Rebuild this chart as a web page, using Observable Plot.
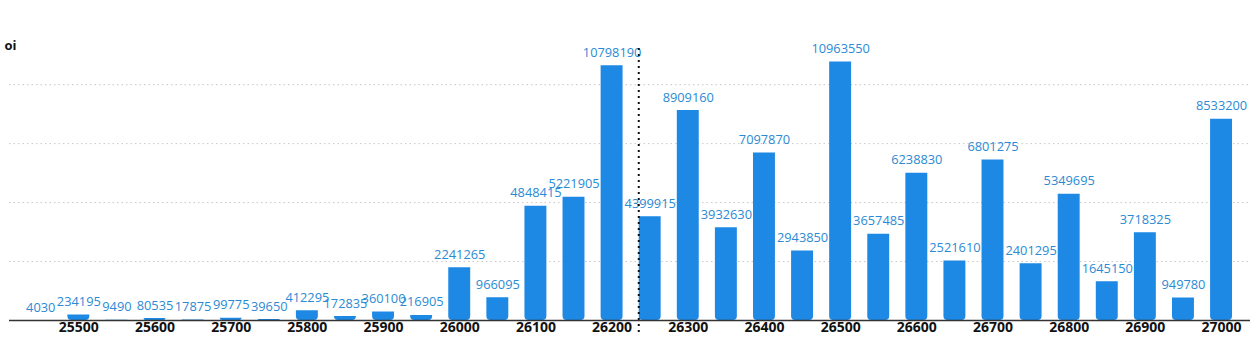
<!DOCTYPE html>
<html>
<head>
<meta charset="utf-8">
<script src="https://cdn.jsdelivr.net/npm/d3@7"></script>
<script src="https://cdn.jsdelivr.net/npm/@observablehq/plot@0.6"></script>
<style>
  html, body { margin: 0; padding: 0; background: #fff; }
  #chart svg { display: block; }
</style>
</head>
<body>
<div id="chart"></div>
<script>
const strikes = [25450, 25500, 25550, 25600, 25650, 25700, 25750, 25800, 25850, 25900, 25950,
  26000, 26050, 26100, 26150, 26200, 26250, 26300, 26350, 26400, 26450, 26500, 26550, 26600,
  26650, 26700, 26750, 26800, 26850, 26900, 26950, 27000];
const oi = [4030, 234195, 9490, 80535, 17875, 99775, 39650, 412295, 172835, 360100, 216905,
  2241265, 966095, 4848415, 5221905, 10798190, 4399915, 8909160, 3932630, 7097870, 2943850,
  10963550, 3657485, 6238830, 2521610, 6801275, 2401295, 5349695, 1645150, 3718325, 949780, 8533200];
const xTicks = [25500, 25600, 25700, 25800, 25900, 26000, 26100, 26200, 26300, 26400, 26500,
  26600, 26700, 26800, 26900, 27000];
const yGrid = [2500000, 5000000, 7500000, 10000000];
const spot = [26235];
const yLabel = "oi";

const data = strikes.map((s, i) => ({strike: s, oi: oi[i]}));
const half = 14.4;

const chart = Plot.plot({
  width: 1252,
  height: 340,
  marginLeft: 9,
  marginRight: 2,
  marginTop: 37,
  marginBottom: 20,
  style: {fontFamily: "'Open Sans', sans-serif", background: "#fff"},
  x: {domain: [25409, 27038], axis: null},
  y: {domain: [0, 12000000], axis: null},
  marks: [
    Plot.gridY(yGrid, {stroke: "#c8c8c8", strokeOpacity: 1, strokeDasharray: "1.5,3"}),
    Plot.rectY(data, {
      x1: d => d.strike - half, x2: d => d.strike + half,
      y1: 0, y2: "oi", fill: "#1e88e5", ry1: 4
    }),
    Plot.text(data, {
      x: "strike", y: "oi", text: d => String(d.oi), dy: -13,
      fill: "#2b8ad4", fontSize: 12.8
    }),
    Plot.ruleX(spot, {stroke: "#111", strokeWidth: 2, strokeDasharray: "2,4", insetTop: 11, insetBottom: -15}),
    Plot.ruleY([0], {stroke: "#333", strokeWidth: 1.5}),
    Plot.axisX({ticks: xTicks, tickSize: 0, tickPadding: 2, tickFormat: d => String(d),
      fontSize: 14, fontWeight: "bold", fill: "#111", label: null}),
    Plot.text([yLabel], {frameAnchor: "top-left", text: d => d, dx: -5, dy: 3,
      textAnchor: "start", fontWeight: "bold", fontSize: 13, fill: "#111"})
  ]
});
document.getElementById("chart").appendChild(chart);
</script>
</body>
</html>
